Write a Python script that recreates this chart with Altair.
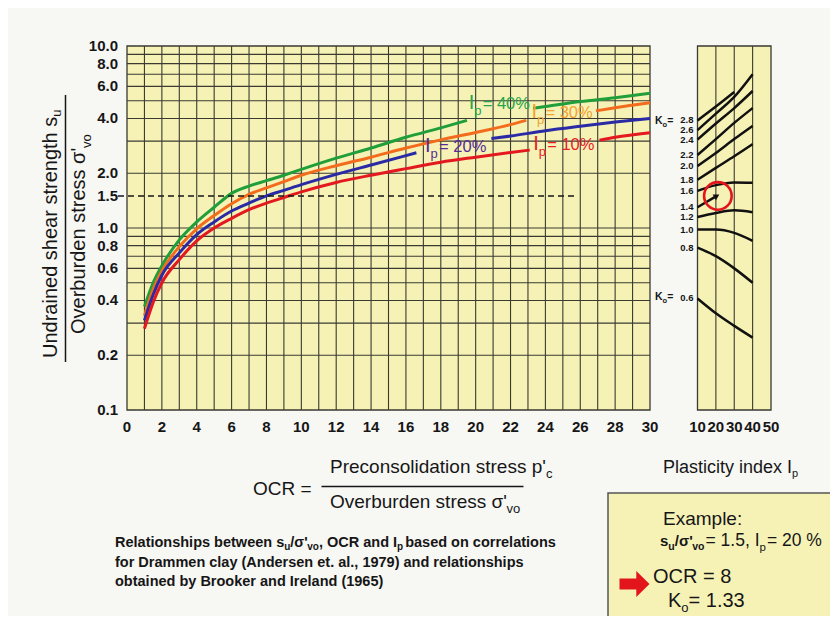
import altair as alt
import pandas as pd

# ---------------------------------------------------------------- data
OCR_DOMAIN = [0, 30]
SU_DOMAIN = [0.1, 10]
IP_DOMAIN = [10, 50]

OCR_TICKS = list(range(0, 31, 2))
OCR_GRID = list(range(1, 30))
SU_TICKS = [0.1, 0.2, 0.4, 0.6, 0.8, 1.0, 1.5, 2.0, 4.0, 6.0, 8.0, 10.0]
SU_GRID = [0.2, 0.3, 0.4, 0.5, 0.6, 0.7, 0.8, 0.9, 1, 2, 3, 4, 5, 6, 7, 8, 9]
IP_TICKS = [10, 20, 30, 40, 50]
IP_GRID = [20, 30, 40]

IP_SERIES = ["40%", "30%", "20%", "10%"]

# Ip = 40 % (two pieces, broken by the label)
ocr_40_a = [1, 1.5, 2, 3, 4, 5, 6, 7, 8, 9, 10, 12, 14, 16, 18, 19.5]
su_40_a = [0.37, 0.50, 0.62, 0.86, 1.08, 1.30, 1.55, 1.70, 1.82, 1.95, 2.10, 2.42, 2.75, 3.15, 3.55, 3.90]
ocr_40_b = [23.3, 24, 26, 28, 30]
su_40_b = [4.55, 4.65, 4.95, 5.20, 5.50]
# Ip = 30 %
ocr_30_a = [1, 1.5, 2, 3, 4, 5, 6, 7, 8, 9, 10, 12, 14, 16, 18, 20, 22, 22.9]
su_30_a = [0.33, 0.46, 0.58, 0.79, 0.99, 1.17, 1.36, 1.53, 1.66, 1.80, 1.95, 2.20, 2.45, 2.75, 3.05, 3.35, 3.70, 3.90]
ocr_30_b = [26.9, 28, 30]
su_30_b = [4.40, 4.58, 4.88]
# Ip = 20 %
ocr_20_a = [1, 1.5, 2, 3, 4, 5, 6, 7, 8, 9, 10, 12, 14, 16, 16.6]
su_20_a = [0.31, 0.43, 0.55, 0.73, 0.92, 1.08, 1.24, 1.37, 1.50, 1.61, 1.73, 1.97, 2.22, 2.50, 2.59]
ocr_20_b = [20.9, 22, 24, 26, 28, 30]
su_20_b = [3.10, 3.20, 3.42, 3.62, 3.82, 4.00]
# Ip = 10 %
ocr_10_a = [1, 1.5, 2, 3, 4, 5, 6, 7, 8, 9, 10, 12, 14, 16, 18, 20, 22, 23.1]
su_10_a = [0.28, 0.39, 0.50, 0.67, 0.85, 1.00, 1.13, 1.26, 1.37, 1.47, 1.58, 1.78, 1.95, 2.12, 2.30, 2.45, 2.60, 2.68]
ocr_10_b = [27.1, 28, 30]
su_10_b = [3.04, 3.15, 3.34]

# curve labels (start of the "I", baseline)
LABEL_OCR = [19.6, 23.2, 17.1, 23.3]
LABEL_SU = [4.49, 4.00, 2.63, 2.68]
LABEL_TEXT = ["= 40%", "= 30%", "= 20%", "= 10%"]

# K0 curves in the plasticity panel
K0_NAMES = ["2.8", "2.6", "2.4", "2.2", "2.0", "1.8", "1.6", "1.4", "1.2", "1.0", "0.8", "0.6"]
K0_IP = {
    "2.8": [10, 20, 30], "2.6": [10, 20, 30, 40], "2.4": [10, 20, 30, 40],
    "2.2": [10, 20, 30, 40], "2.0": [10, 20, 30, 40], "1.8": [10, 20, 30, 40],
    "1.6": [10, 20, 30, 40], "1.4": [10, 20.5], "1.2": [10, 20, 30, 40],
    "1.0": [10, 20, 30, 40], "0.8": [10, 20, 30, 40], "0.6": [10, 20, 30, 40],
}
K0_SU = {
    "2.8": [3.90, 4.65, 5.59], "2.6": [3.45, 4.25, 5.25, 7.00], "2.4": [3.06, 3.75, 4.56, 5.66],
    "2.2": [2.52, 3.08, 3.78, 4.56], "2.0": [2.19, 2.58, 3.08, 3.64], "1.8": [1.84, 2.14, 2.48, 2.89],
    "1.6": [1.60, 1.72, 1.78, 1.77], "1.4": [1.30, 1.50], "1.2": [1.15, 1.21, 1.25, 1.22],
    "1.0": [0.98, 0.98, 0.94, 0.85], "0.8": [0.78, 0.70, 0.60, 0.50], "0.6": [0.41, 0.34, 0.29, 0.25],
}
ARROW_CURVE = "1.4"   # the K0 line that ends with an arrow head in the example

EXAMPLE_SU = [1.5]
EXAMPLE_IP = [20]

# ---------------------------------------------------------------- style
FONT = "Liberation Sans"
YELLOW = "#f6f2b6"
INK = "#161616"
GRIDC = "#3a3a32"
RED = "#e3151c"
CURVE_COLORS = ["#1f9e3a", "#f36b1c", "#2a2aa6", "#e3191f"]
LABEL_COLORS = ["#25a64a", "#f1a232", "#5a2b96", "#e8202a"]

SVG_W, SVG_H = 822, 608       # page minus its 8px margins
W, H = 523, 364
OX, OY = 127, 46              # page position of the plot origin
RX0, RX1 = 570.5, 644.0       # pixel span of the plasticity panel

# Arial / Liberation Sans advance widths (1/1000 em)
RW, BW = {}, {}
for chars, w in [(" !,./:;If[]t", 278), ("'", 191), ("ijl", 222), ("()-r", 333),
                 ("cksvxyzJ", 500), ("0123456789abdeghnopquL?", 556), ("=+<>", 584),
                 ("FTZ", 611), ("ABEKPSVXY", 667), ("CDHNRUw", 722), ("GOQ", 778),
                 ("Mm", 833), ("%", 889), ("W", 944), ("σ", 600)]:
    for c in chars:
        RW[c] = w
for chars, w in [(" ,./:Iijl", 278), ("'", 238), ("()-ft", 333), ("r", 389),
                 ("0123456789acekvsxyJ", 556), ("bdghnopqu", 611), ("FLTZ", 611),
                 ("=", 584), ("EPS", 667), ("ABCDHKNRU", 722), ("GOQw", 778),
                 ("m%", 889), ("M", 833), ("W", 944), ("z", 500), ("σ", 650)]:
    for c in chars:
        BW[c] = w


def tw(s, size, bold=False):
    tab = BW if bold else RW
    return sum(tab.get(c, 556) for c in s) * size / 1000.0


ONE = pd.DataFrame({"k": [0]})


def T(text, px, py, size, bold=False, color=INK, angle=0, align="left"):
    return alt.Chart(ONE).mark_text(
        text=text, font=FONT, fontSize=size,
        fontWeight="bold" if bold else "normal", color=color,
        align=align, baseline="alphabetic", angle=angle,
    ).encode(x=alt.value(px - OX), y=alt.value(py - OY))


def rich(pieces, px, py, color=INK, angle=0):
    """pieces: (text, size, bold, baseline shift, extra gap after)"""
    out = []
    d = 0.0
    for piece in pieces:
        text, size, bold, sub = piece[:4]
        gap = piece[4] if len(piece) > 4 else 0
        if angle == 270:
            out.append(T(text, px + sub, py - d, size, bold, color, angle))
        else:
            out.append(T(text, px + d, py + sub, size, bold, color, angle))
        d += tw(text, size, bold) + gap
    return out


# ---------------------------------------------------------------- tables
curve_segments = {
    "40%": [(ocr_40_a, su_40_a), (ocr_40_b, su_40_b)],
    "30%": [(ocr_30_a, su_30_a), (ocr_30_b, su_30_b)],
    "20%": [(ocr_20_a, su_20_a), (ocr_20_b, su_20_b)],
    "10%": [(ocr_10_a, su_10_a), (ocr_10_b, su_10_b)],
}
rows = []
for ip, segs in curve_segments.items():
    for si, (oo, ss) in enumerate(segs):
        for o, s in zip(oo, ss):
            rows.append({"ip": ip, "key": f"{ip}-{si}", "ocr": o, "su": s})
curves_df = pd.DataFrame(rows)

lab_df = pd.DataFrame({"ip": IP_SERIES, "ocr": LABEL_OCR, "su": LABEL_SU, "txt": LABEL_TEXT})

k0_rows = []
for name in K0_NAMES:
    for ip, su in zip(K0_IP[name], K0_SU[name]):
        k0_rows.append({"k0": name, "ip": ip, "su": su})
k0_df = pd.DataFrame(k0_rows)
k0_lab = pd.DataFrame({"k0": K0_NAMES,
                       "ip": [K0_IP[n][0] for n in K0_NAMES],
                       "su": [K0_SU[n][0] for n in K0_NAMES]})
k0_head = pd.DataFrame({"ip": [K0_IP[ARROW_CURVE][-1]], "su": [K0_SU[ARROW_CURVE][-1]]})

ex_df = pd.DataFrame({"ip": EXAMPLE_IP, "su": EXAMPLE_SU})

# ---------------------------------------------------------------- scales
XS = alt.Scale(domain=OCR_DOMAIN, nice=False)
YS = alt.Scale(type="log", domain=SU_DOMAIN, nice=False)
IPS = alt.Scale(domain=IP_DOMAIN, range=[RX0, RX1], nice=False)

TICK_STYLE = dict(font=FONT, fontSize=15, fontWeight="bold", color=INK)

# ---------------------------------------------------------------- main panel
main_bg = alt.Chart(pd.DataFrame({"x0": [OCR_DOMAIN[0]], "x1": [OCR_DOMAIN[1]],
                                  "y0": [SU_DOMAIN[0]], "y1": [SU_DOMAIN[1]]})).mark_rect(
    fill=YELLOW, stroke=GRIDC, strokeWidth=1.3
).encode(x=alt.X("x0:Q", scale=XS, axis=None), x2="x1",
         y=alt.Y("y0:Q", scale=YS, axis=None), y2="y1")

vgrid = alt.Chart(pd.DataFrame({"g": OCR_GRID})).mark_rule(
    color=GRIDC, strokeWidth=1.1
).encode(x=alt.X("g:Q", scale=XS, axis=None))

hgrid = alt.Chart(pd.DataFrame({"h": SU_GRID})).mark_rule(
    color=GRIDC, strokeWidth=1.1
).encode(y=alt.Y("h:Q", scale=YS, axis=None))

x_labels = alt.Chart(pd.DataFrame({"v": OCR_TICKS})).mark_text(
    align="center", baseline="top", **TICK_STYLE
).encode(x=alt.X("v:Q", scale=XS, axis=None), y=alt.value(H + 10), text=alt.Text("v:Q", format="d"))

y_labels = alt.Chart(pd.DataFrame({"v": SU_TICKS})).mark_text(
    align="right", baseline="middle", **TICK_STYLE
).encode(y=alt.Y("v:Q", scale=YS, axis=None), x=alt.value(-9), text=alt.Text("v:Q", format=".1f"))

curves = alt.Chart(curves_df).mark_line(strokeWidth=3, interpolate="monotone").encode(
    x=alt.X("ocr:Q", scale=XS, axis=None),
    y=alt.Y("su:Q", scale=YS, axis=None),
    color=alt.Color("ip:N", scale=alt.Scale(domain=IP_SERIES, range=CURVE_COLORS), legend=None),
    detail="key:N",
)


def lab_layer(size, dx, dy, text=None, field=None):
    kw = dict(font=FONT, fontSize=size, align="left", baseline="alphabetic", dx=dx, dy=dy)
    if text is not None:
        kw["text"] = text
    enc = dict(x=alt.X("ocr:Q", scale=XS, axis=None), y=alt.Y("su:Q", scale=YS, axis=None),
               color=alt.Color("ip:N", scale=alt.Scale(domain=IP_SERIES, range=LABEL_COLORS),
                               legend=None))
    if field is not None:
        enc["text"] = alt.Text(field + ":N")
    return alt.Chart(lab_df).mark_text(**kw).encode(**enc)


main = alt.layer(
    main_bg, vgrid, hgrid, curves, x_labels, y_labels,
    lab_layer(20, 0, 0, text="I"),
    lab_layer(13, 5.5, 6, text="p"),
    lab_layer(16.5, 14, 0, field="txt"),
).resolve_scale(color="independent")

# ---------------------------------------------------------------- plasticity panel
ip_bg = alt.Chart(pd.DataFrame({"x0": [IP_DOMAIN[0]], "x1": [IP_DOMAIN[1]],
                                "y0": [SU_DOMAIN[0]], "y1": [SU_DOMAIN[1]]})).mark_rect(
    fill=YELLOW, stroke=GRIDC, strokeWidth=1.3
).encode(x=alt.X("x0:Q", scale=IPS, axis=None), x2="x1",
         y=alt.Y("y0:Q", scale=YS, axis=None), y2="y1")

ip_grid = alt.Chart(pd.DataFrame({"g": IP_GRID})).mark_rule(
    color=GRIDC, strokeWidth=1.1
).encode(x=alt.X("g:Q", scale=IPS, axis=None))

ip_labels = alt.Chart(pd.DataFrame({"v": IP_TICKS})).mark_text(
    align="center", baseline="top", **TICK_STYLE
).encode(x=alt.X("v:Q", scale=IPS, axis=None), y=alt.value(H + 10), text=alt.Text("v:Q", format="d"))

k0_lines = alt.Chart(k0_df).mark_line(color="#111111", strokeWidth=2.5, interpolate="monotone").encode(
    x=alt.X("ip:Q", scale=IPS, axis=None),
    y=alt.Y("su:Q", scale=YS, axis=None),
    detail="k0:N",
)

k0_arrow = alt.Chart(k0_head).mark_point(
    shape="triangle-right", size=45, filled=True, color="#111111", opacity=1, angle=330
).encode(x=alt.X("ip:Q", scale=IPS, axis=None), y=alt.Y("su:Q", scale=YS, axis=None))

k0_text = alt.Chart(k0_lab).mark_text(
    font=FONT, fontSize=9.5, fontWeight="bold", align="right", baseline="middle",
    dx=-4, dy=0, color=INK
).encode(x=alt.X("ip:Q", scale=IPS, axis=None), y=alt.Y("su:Q", scale=YS, axis=None),
         text="k0:N")

circle = alt.Chart(ex_df).mark_point(
    shape="circle", size=760, filled=False, stroke=RED, strokeWidth=2.6, opacity=1, xOffset=2
).encode(x=alt.X("ip:Q", scale=IPS, axis=None), y=alt.Y("su:Q", scale=YS, axis=None))

right = alt.layer(ip_bg, ip_grid, ip_labels, k0_lines, k0_arrow, k0_text, circle)

dash = alt.Chart(ex_df).mark_rule(strokeDash=[6, 4], color=INK, strokeWidth=1.6).encode(
    y=alt.Y("su:Q", scale=YS, axis=None), x=alt.value(-9), x2=alt.value(578 - OX)
)

# ---------------------------------------------------------------- annotations
notes = []
# y-axis fraction title
notes += rich([("Undrained shear strength s", 20, False, 0), ("u", 13, False, 4)], 57, 358, angle=270)
notes += rich([("Overburden stress σ'", 20, False, 0), ("vo", 13, False, 6)], 85, 334, angle=270)
notes.append(alt.Chart(ONE).mark_rule(color=INK, strokeWidth=1.5).encode(
    x=alt.value(65.5 - OX), x2=alt.value(65.5 - OX), y=alt.value(95 - OY), y2=alt.value(362 - OY)))

# OCR definition
notes.append(T("OCR =", 253, 495, 19))
notes += rich([("Preconsolidation stress p'", 19, False, 0), ("c", 13, False, 5)], 330, 473)
notes += rich([("Overburden stress σ'", 19, False, 0), ("vo", 13, False, 5)], 330, 508)
notes.append(alt.Chart(ONE).mark_rule(color=INK, strokeWidth=1.5).encode(
    x=alt.value(321.5 - OX), x2=alt.value(523.5 - OX), y=alt.value(486.5 - OY), y2=alt.value(486.5 - OY)))

# caption
notes += rich([("Relationships between s", 14.5, True, 0), ("u", 10, True, 3), ("/σ'", 14.5, True, 0),
               ("vo", 10, True, 3), (", OCR and I", 14.5, True, 0), ("p", 10, True, 3, 2),
               (" based on correlations", 14.5, True, 0)], 115, 547)
notes.append(T("for Drammen clay (Andersen et. al., 1979) and relationships", 115, 567, 14.5, True))
notes.append(T("obtained by Brooker and Ireland (1965)", 115, 586, 14.5, True))

# plasticity axis title
notes += rich([("Plasticity index I", 18, False, 0), ("p", 11, False, 4)], 663, 473)

# K0 markers
notes += rich([("K", 10.5, True, 0), ("o", 7.5, True, 3), ("=", 10.5, True, 0)], 655, 124)
notes += rich([("K", 10.5, True, 0), ("o", 7.5, True, 3), ("=", 10.5, True, 0)], 655, 300)

# example box
notes.append(alt.Chart(ONE).mark_rect(fill=YELLOW, stroke="#555555", strokeWidth=1.5).encode(
    x=alt.value(608 - OX), x2=alt.value(846 - OX), y=alt.value(493 - OY), y2=alt.value(632 - OY)))
notes.append(T("Example:", 663, 525, 19))
notes += rich([("s", 15, True, 0), ("u", 10.5, True, 4), ("/σ'", 15, True, 0), ("vo", 10.5, True, 4, 1),
               ("= 1.5, I", 17.5, False, 0), ("p", 11.5, False, 5, 1), (" = 20 %", 17.5, False, 0)],
              660, 546)
notes.append(T("OCR = 8", 653, 583, 20))
notes += rich([("K", 20, False, 0), ("o", 13, False, 5), (" = 1.33", 20, False, 0)], 668, 607)
ARROW = "M-1,-0.36L0.12,-0.36L0.12,-0.86L1,0L0.12,0.86L0.12,0.36L-1,0.36Z"
notes.append(alt.Chart(ONE).mark_point(shape=ARROW, size=900, filled=True, color=RED, opacity=1).encode(
    x=alt.value(634.5 - OX), y=alt.value(584 - OY)))

chart = alt.layer(main, right, dash, *notes).resolve_scale(x="independent").properties(
    width=W, height=H,
    autosize=alt.AutoSizeParams(type="none"),
    padding={"left": OX - 8, "top": OY - 8, "right": SVG_W - (OX - 8) - W,
             "bottom": SVG_H - (OY - 8) - H},
    background="#f7f7f4",
).configure_view(strokeOpacity=0)

chart.save("out.html", embed_options={"renderer": "svg", "actions": False})
